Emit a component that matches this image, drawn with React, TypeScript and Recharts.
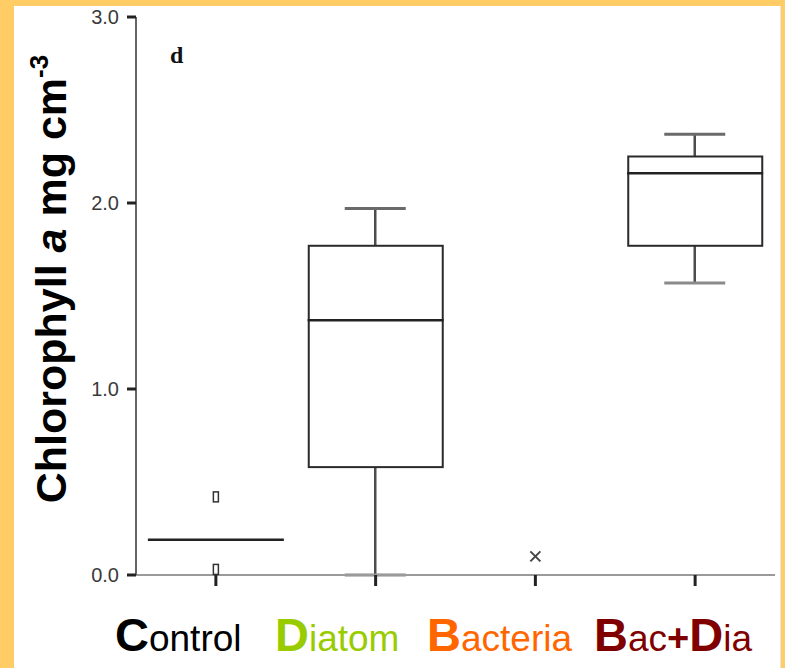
import React from "react";
import { ComposedChart, Bar, Scatter, XAxis, YAxis } from "recharts";

const CATEGORIES = ["Control", "Diatom", "Bacteria", "Bac+Dia"];
const BOX_LOW = [null, 0.58, null, 1.77];
const BOX_HIGH = [null, 1.77, null, 2.25];
const MEDIANS = [0.19, 1.37, null, 2.16];
const WHISKER_LOW = [null, 0, null, 1.57];
const WHISKER_HIGH = [null, 1.97, null, 2.37];
const OUTLIER_HIGH = [0.42, null, null, null];
const OUTLIER_LOW = [0.03, null, null, null];
const EXTREMES = [null, null, 0.1, null];
const Y_TICKS = [0, 1, 2, 3];

// label text split into [text, emphasised] pieces
const LABEL_PARTS: [string, boolean][][] = [
  [["C", true], ["ontrol", false]],
  [["D", true], ["iatom", false]],
  [["B", true], ["acteria", false]],
  [["B", true], ["ac", false], ["+", true], ["D", true], ["ia", false]],
];
const LABEL_COLORS = ["#000000", "#99cc00", "#ff6600", "#800000"];
const LABEL_X = [115, 275, 427, 594];

const rows = CATEGORIES.map((cat, i) => ({
  cat,
  box: BOX_LOW[i] == null ? null : [BOX_LOW[i], BOX_HIGH[i]],
  whisker: WHISKER_LOW[i] == null ? null : [WHISKER_LOW[i], WHISKER_HIGH[i]],
  median: MEDIANS[i],
  outHigh: OUTLIER_HIGH[i],
  outLow: OUTLIER_LOW[i],
  extreme: EXTREMES[i],
}));

const FONT = "'Liberation Sans', Arial, sans-serif";

const WhiskerShape = (p: any) => {
  if (!p.payload || !p.payload.whisker) return <g />;
  const top = Math.min(p.y, p.y + p.height);
  const bottom = Math.max(p.y, p.y + p.height);
  const cx = p.x + p.width / 2;
  return (
    <g stroke="#4d4d4d" strokeWidth={2.5}>
      <line x1={cx} x2={cx} y1={top} y2={bottom} />
      <line x1={p.x} x2={p.x + p.width} y1={top} y2={top} stroke="#6a6a6a" strokeWidth={3} />
      <line x1={p.x} x2={p.x + p.width} y1={bottom} y2={bottom} stroke="#8a8a8a" strokeWidth={3} />
    </g>
  );
};

const BoxShape = (p: any) => {
  if (!p.payload || !p.payload.box) return <g />;
  const top = Math.min(p.y, p.y + p.height);
  const h = Math.abs(p.height);
  return <rect x={p.x} y={top} width={p.width} height={h} fill="#ffffff" stroke="#2a2a2a" strokeWidth={2} />;
};

const medianShape = (p: any) => {
  if (!p.payload || p.payload.median == null) return <g />;
  return <line x1={p.cx - 68} x2={p.cx + 68} y1={p.cy} y2={p.cy} stroke="#222" strokeWidth={2.5} />;
};

const outlierShape = (key: string) => (p: any) => {
  if (!p.payload || p.payload[key] == null) return <g />;
  return <rect x={p.cx - 2.5} y={p.cy - 5} width={5} height={10} fill="#fff" stroke="#333" strokeWidth={1.5} />;
};

const extremeShape = (p: any) => {
  if (!p.payload || p.payload.extreme == null) return <g />;
  return (
    <g stroke="#444" strokeWidth={2}>
      <line x1={p.cx - 5} x2={p.cx + 5} y1={p.cy - 5} y2={p.cy + 5} />
      <line x1={p.cx - 5} x2={p.cx + 5} y1={p.cy + 5} y2={p.cy - 5} />
    </g>
  );
};

const YTick = (p: any) => (
  <text x={p.x} y={p.y} dy={7} textAnchor="end" fontFamily={FONT} fontSize={20} fill="#3a3a3a">
    {Number(p.payload.value).toFixed(1)}
  </text>
);

const YLabel = () => (
  <text
    x={66}
    y={279}
    transform="rotate(-90, 66, 279)"
    textAnchor="middle"
    fontFamily={FONT}
    fontWeight="bold"
    fontSize={43}
    fill="#000"
  >
    Chlorophyll <tspan fontStyle="italic">a</tspan> mg cm
    <tspan fontSize={26} dy={-18}>-3</tspan>
  </text>
);

export default function App() {
  return (
    <div style={{ position: "absolute", left: 0, top: 0, width: 785, height: 668, background: "#ffcc66", overflow: "hidden" }}>
      <div style={{ position: "absolute", left: 14, top: 6, width: 766, height: 662, background: "#fff", borderRight: "1px solid #e6e6e6" }} />
      <div style={{ position: "absolute", left: 0, top: 0 }}>
        <ComposedChart width={785} height={668} data={rows} margin={{ top: 17, right: 10, bottom: 73, left: 80 }}>
          <XAxis
            xAxisId="a"
            dataKey="cat"
            type="category"
            axisLine={{ stroke: "#9a9a9a", strokeWidth: 2 }}
            tickLine={{ stroke: "#222", strokeWidth: 3 }}
            tickSize={11}
            tick={() => <g />}
            height={20}
          />
          <XAxis xAxisId="w" dataKey="cat" type="category" hide height={0} />
          <XAxis xAxisId="b" dataKey="cat" type="category" hide height={0} />
          <XAxis xAxisId="t" dataKey="cat" type="category" orientation="top" height={0} tick={false} tickLine={false} axisLine={{ stroke: "#555", strokeWidth: 2.5 }} />
          <YAxis
            domain={[0, 3]}
            ticks={Y_TICKS}
            type="number"
            width={56}
            tick={YTick}
            tickSize={9}
            tickMargin={8}
            tickLine={{ stroke: "#222", strokeWidth: 3 }}
            axisLine={{ stroke: "#666", strokeWidth: 2 }}
            label={<YLabel />}
          />
          <YAxis yAxisId="r" orientation="right" domain={[0, 3]} width={0} tick={false} tickLine={false} axisLine={{ stroke: "#777", strokeWidth: 3 }} />
          <Bar xAxisId="w" dataKey="whisker" barSize={61} shape={WhiskerShape} isAnimationActive={false} />
          <Bar xAxisId="b" dataKey="box" barSize={134} shape={BoxShape} isAnimationActive={false} />
          <Scatter xAxisId="a" dataKey="median" shape={medianShape} isAnimationActive={false} />
          <Scatter xAxisId="a" dataKey="outHigh" shape={outlierShape("outHigh")} isAnimationActive={false} />
          <Scatter xAxisId="a" dataKey="outLow" shape={outlierShape("outLow")} isAnimationActive={false} />
          <Scatter xAxisId="a" dataKey="extreme" shape={extremeShape} isAnimationActive={false} />
        </ComposedChart>
      </div>
      <svg width={785} height={668} style={{ position: "absolute", left: 0, top: 0, pointerEvents: "none" }}>
        <text x={170} y={63} fontFamily="'Liberation Serif', 'Times New Roman', serif" fontWeight="bold" fontSize={24} fill="#111">
          d
        </text>
        {LABEL_PARTS.map((parts, i) => (
          <text key={CATEGORIES[i]} x={LABEL_X[i]} y={651} fontFamily={FONT} fill={LABEL_COLORS[i]}>
            {parts.map(([txt, strong], j) => (
              <tspan key={j} fontWeight={strong ? "bold" : "normal"} fontSize={strong ? (txt === "+" ? 38 : 47) : 37}>
                {txt}
              </tspan>
            ))}
          </text>
        ))}
      </svg>
    </div>
  );
}
